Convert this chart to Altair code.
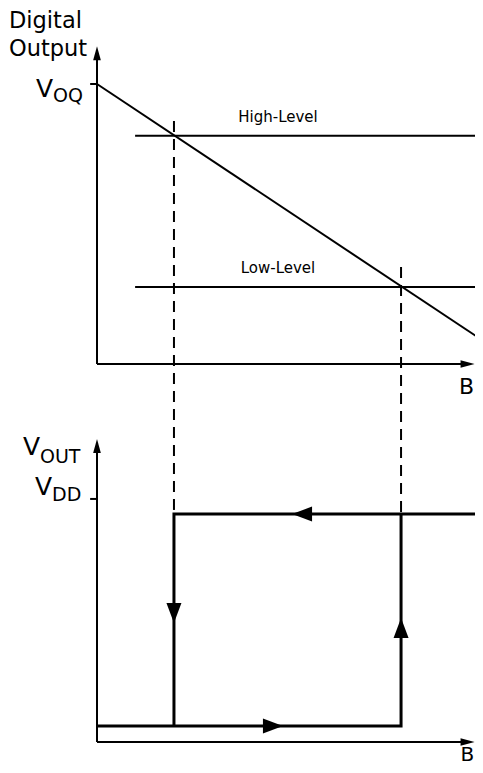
import altair as alt
import pandas as pd

# ---------------- values ----------------
# horizontal axis: magnetic field B (arbitrary units, 0 at the vertical axes)
B_AXIS_END = 9.75
B_ARROW_TIP = 9.91
B_TICK_START = -0.18
LEVEL_START_B = 1.0
DIAG_B = [0.0, 10.0]
B_ON = 2.02     # where the output crosses the High-Level
B_OFF = 7.98    # where the output crosses the Low-Level

# top panel: digital output (arbitrary units)
VOQ = 10.0
DIAG_OUT = [10.0, 0.95]
HIGH_LEVEL = 8.15
LOW_LEVEL = 2.75
OUT_AXIS_END = 11.0
OUT_ARROW_TIP = 11.35
DASH_TOP_ON = 8.68
DASH_TOP_OFF = 3.46

# bottom panel: V_OUT (arbitrary units)
VDD = 8.68
VOUT_HIGH = 8.14
VOUT_LOW = 0.57
VOUT_AXIS_END = 10.5
VOUT_ARROW_TIP = 10.82
LOOP_ARROW_B = [5.12, B_ON, 4.88, B_OFF]
LOOP_ARROW_V = [VOUT_HIGH, 4.25, VOUT_LOW, 4.43]
LOOP_ARROW_DIR = [270, 180, 90, 0]

# ---------------- layout ----------------
W, H = 467, 757
X_DOMAIN = [-2.336, 9.921]
Y_DOMAIN = [-0.822, 26.214]
TOP = 13.5          # vertical offset of the upper panel's origin
FONT = "DejaVu Sans"

def up(v):
    return v + TOP

# thin solid segments: axes, ticks, levels, diagonal
seg = pd.DataFrame([
    # upper panel axes
    dict(x=0, y=up(0), x2=0, y2=up(OUT_AXIS_END)),
    dict(x=0, y=up(0), x2=B_AXIS_END, y2=up(0)),
    dict(x=B_TICK_START, y=up(VOQ), x2=0, y2=up(VOQ)),
    # levels
    dict(x=LEVEL_START_B, y=up(HIGH_LEVEL), x2=DIAG_B[1], y2=up(HIGH_LEVEL)),
    dict(x=LEVEL_START_B, y=up(LOW_LEVEL), x2=DIAG_B[1], y2=up(LOW_LEVEL)),
    # output line
    dict(x=DIAG_B[0], y=up(DIAG_OUT[0]), x2=DIAG_B[1], y2=up(DIAG_OUT[1])),
    # lower panel axes
    dict(x=0, y=0, x2=0, y2=VOUT_AXIS_END),
    dict(x=0, y=0, x2=B_AXIS_END, y2=0),
    dict(x=B_TICK_START, y=VDD, x2=0, y2=VDD),
])

dash = pd.DataFrame([
    dict(x=B_ON, y=up(DASH_TOP_ON), x2=B_ON, y2=VOUT_HIGH),
    dict(x=B_OFF, y=up(DASH_TOP_OFF), x2=B_OFF, y2=VOUT_HIGH),
])

loop = pd.DataFrame(dict(
    x=[DIAG_B[1], B_ON, B_ON, 0, B_OFF, B_OFF],
    y=[VOUT_HIGH, VOUT_HIGH, VOUT_LOW, VOUT_LOW, VOUT_LOW, VOUT_HIGH],
    part=["a", "a", "a", "b", "b", "b"],
    o=[0, 1, 2, 0, 1, 2],
))

axis_arrows = pd.DataFrame(dict(
    x=[0, B_ARROW_TIP, 0, B_ARROW_TIP],
    y=[up(OUT_ARROW_TIP), up(0), VOUT_ARROW_TIP, 0],
    a=[0, 90, 0, 90],
))

loop_arrows = pd.DataFrame(dict(x=LOOP_ARROW_B, y=LOOP_ARROW_V, a=LOOP_ARROW_DIR))

labels = pd.DataFrame([
    dict(x=-2.31, y=up(12.0), t="Digital", s=22.5, al="left"),
    dict(x=-2.31, y=up(11.0), t="Output", s=22.5, al="left"),
    dict(x=-1.155, y=up(9.54), t="V", s=25, al="right"),
    dict(x=-1.155, y=up(9.36), t="OQ", s=19, al="left"),
    dict(x=4.75, y=up(8.64), t="High-Level", s=15, al="center"),
    dict(x=4.75, y=up(3.25), t="Low-Level", s=15, al="center"),
    dict(x=9.90, y=up(-1.07), t="B", s=22, al="right"),
    dict(x=-1.496, y=10.25, t="V", s=25, al="right"),
    dict(x=-1.496, y=9.96, t="OUT", s=19, al="left"),
    dict(x=-1.181, y=8.82, t="V", s=25, al="right"),
    dict(x=-1.181, y=8.61, t="DD", s=19, al="left"),
    dict(x=9.90, y=-0.68, t="B", s=20, al="right"),
])

xs = alt.Scale(domain=X_DOMAIN, nice=False, zero=False)
ys = alt.Scale(domain=Y_DOMAIN, nice=False, zero=False)
X = lambda f="x": alt.X(f"{f}:Q", scale=xs, axis=None)
Y = lambda f="y": alt.Y(f"{f}:Q", scale=ys, axis=None)

thin = alt.Chart(seg).mark_rule(color="black", strokeWidth=2).encode(
    x=X(), y=Y(), x2="x2:Q", y2="y2:Q")

dashed = alt.Chart(dash).mark_rule(color="black", strokeWidth=2, strokeDash=[11, 7]).encode(
    x=X(), y=Y(), x2="x2:Q", y2="y2:Q")

loop_line = alt.Chart(loop).mark_line(color="black", strokeWidth=3, strokeJoin="miter",
                                      strokeCap="butt").encode(
    x=X(), y=Y(), detail="part:N", order="o:Q")

ax_arr = alt.Chart(axis_arrows).mark_point(
    shape="M0,0L0.55,2L-0.55,2Z", filled=True, color="black", opacity=1, size=196,
    strokeWidth=0).encode(x=X(), y=Y(), angle=alt.Angle("a:Q", scale=None))

lp_arr = alt.Chart(loop_arrows).mark_point(
    shape="M0,0L0.75,2L-0.75,2Z", filled=True, color="black", opacity=1, size=400,
    strokeWidth=0).encode(x=X(), y=Y(), angle=alt.Angle("a:Q", scale=None))

def text_layer(align):
    d = labels[labels.al == align]
    return alt.Chart(d).mark_text(font=FONT, align=align, baseline="alphabetic",
                                  color="black").encode(
        x=X(), y=Y(), text="t:N", size=alt.Size("s:Q", scale=None))

chart = alt.layer(
    dashed, thin, loop_line, ax_arr, lp_arr,
    text_layer("left"), text_layer("right"), text_layer("center"),
).properties(
    width=W, height=H, padding=0, autosize=alt.AutoSizeParams(type="none"),
).configure_view(stroke=None)

chart.save("out.html", embed_options={"renderer": "svg", "actions": False})
